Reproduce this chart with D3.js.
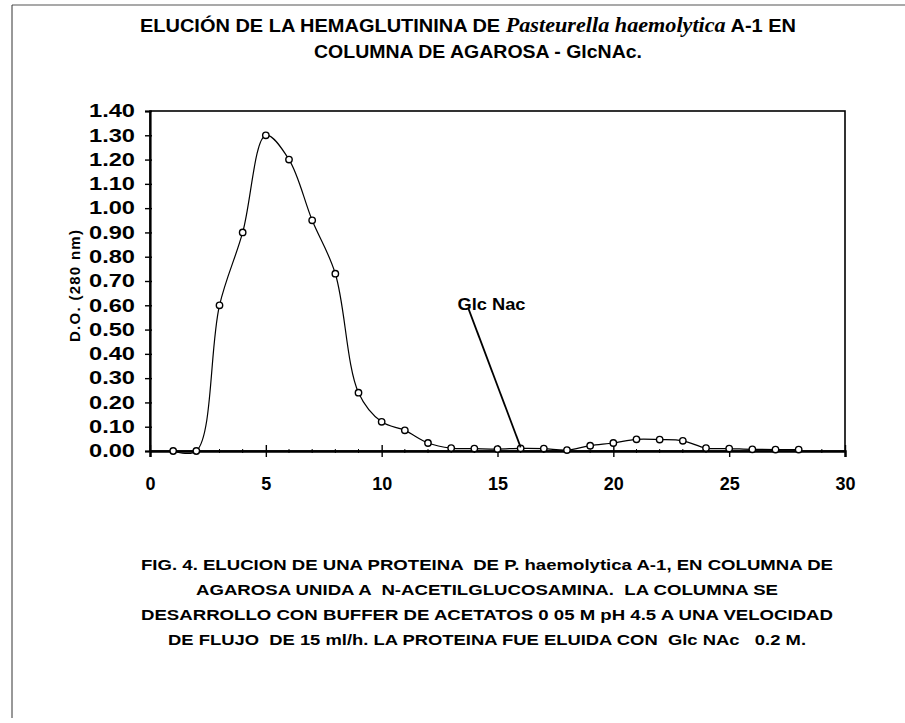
<!DOCTYPE html>
<html lang="es">
<head>
    <meta charset="UTF-8">
    <title>Elución de la hemaglutinina</title>
    <script src="https://d3js.org/d3.v7.min.js"></script>
    <style>
        body { margin: 0; background: #fff; }
        text { font-family: "Liberation Sans", Arial, sans-serif; fill: #000; }
    </style>
</head>
<body>
    <svg width="905" height="723"></svg>

    <script>
        // Fracciones (tubos) y densidad óptica a 280 nm
        const fractions = [1, 2, 3, 4, 5, 6, 7, 8, 9, 10, 11, 12, 13, 14, 15, 16, 17, 18, 19, 20, 21, 22, 23, 24, 25, 26, 27, 28];
        const absorbance = [0.00, 0.00, 0.60, 0.90, 1.30, 1.20, 0.95, 0.73, 0.24, 0.12, 0.085, 0.033, 0.012, 0.010,
                            0.008, 0.011, 0.010, 0.004, 0.022, 0.033, 0.048, 0.047, 0.042, 0.012, 0.010, 0.007, 0.006, 0.006];

        const xTicks = [0, 5, 10, 15, 20, 25, 30];
        const yTicks = [0, 0.1, 0.2, 0.3, 0.4, 0.5, 0.6, 0.7, 0.8, 0.9, 1.0, 1.1, 1.2, 1.3, 1.4];

        // Flecha "Glc Nac": desde la etiqueta hasta el tubo 16
        const arrowFrom = [13.75, 0.585];
        const arrowTo = [16, 0.015];

        const captionLines = [
            "FIG. 4. ELUCION DE UNA PROTEINA  DE P. haemolytica A-1, EN COLUMNA DE",
            "AGAROSA UNIDA A  N-ACETILGLUCOSAMINA.  LA COLUMNA SE",
            "DESARROLLO CON BUFFER DE ACETATOS 0 05 M pH 4.5 A UNA VELOCIDAD",
            "DE FLUJO  DE 15 ml/h. LA PROTEINA FUE ELUIDA CON  Glc NAc   0.2 M."
        ];
        const captionWidths = [692, 582, 692, 638];

        const svg = d3.select("svg");

        // marco exterior (escaneado)
        svg.append("line").attr("x1", 12).attr("x2", 905).attr("y1", 5).attr("y2", 5)
           .attr("stroke", "#555").attr("stroke-width", 1.2);
        svg.append("line").attr("x1", 12).attr("x2", 12).attr("y1", 5).attr("y2", 718)
           .attr("stroke", "#333").attr("stroke-width", 1);

        const margin = { top: 111, left: 150 },
              width = 695,
              height = 340;

        const g = svg.append("g").attr("transform", `translate(${margin.left},${margin.top})`);

        const x = d3.scaleLinear().domain([0, 30]).range([0, width]);
        const y = d3.scaleLinear().domain([0, 1.4]).range([height, 0]);

        // caja del gráfico
        g.append("rect")
         .attr("width", width).attr("height", height)
         .attr("fill", "none").attr("stroke", "#000").attr("stroke-width", 1.6);

        // eje Y
        const yAxis = g.append("g")
            .call(d3.axisLeft(y).tickValues(yTicks).tickFormat(d3.format(".2f")).tickSize(5).tickPadding(10));
        yAxis.select(".domain").attr("stroke-width", 2.2);
        yAxis.selectAll(".tick line").attr("x2", 2).attr("x1", -5).attr("stroke-width", 1.4);
        yAxis.selectAll("text")
             .attr("textLength", 46).attr("lengthAdjust", "spacingAndGlyphs")
             .style("font-size", "18px").style("font-weight", "bold")
             .style("font-family", "'Liberation Sans', Arial, sans-serif");

        // eje X
        const xAxis = g.append("g")
            .attr("transform", `translate(0,${height})`)
            .call(d3.axisBottom(x).tickValues(xTicks).tickSize(6).tickPadding(20));
        xAxis.select(".domain").attr("stroke-width", 2.4);
        xAxis.selectAll(".tick line").attr("y1", -6).attr("y2", 6).attr("stroke-width", 1.4);
        xAxis.selectAll("text")
             .style("font-size", "18px").style("font-weight", "bold")
             .style("font-family", "'Liberation Sans', Arial, sans-serif");

        // marcas menores en el eje X
        g.append("g").selectAll("line")
         .data(d3.range(1, 30).filter(d => d % 5 !== 0))
         .enter().append("line")
         .attr("x1", d => x(d)).attr("x2", d => x(d))
         .attr("y1", height - 2).attr("y2", height + 2)
         .attr("stroke", "#000").attr("stroke-width", 1);

        // título del eje Y
        g.append("text")
         .attr("transform", `translate(-70,${y(0.7) + 5}) rotate(-90)`)
         .attr("text-anchor", "middle")
         .attr("textLength", 112).attr("lengthAdjust", "spacing")
         .style("font-size", "15px").style("font-weight", "bold")
         .text("D.O. (280 nm)");

        // curva suavizada
        const pts = fractions.map((f, i) => [f, absorbance[i]]);
        const line = d3.line()
            .x(d => x(d[0])).y(d => y(d[1]))
            .curve(d3.curveCatmullRom.alpha(0.5));

        g.append("path")
         .datum(pts)
         .attr("d", line)
         .attr("fill", "none").attr("stroke", "#000").attr("stroke-width", 1.2);

        g.selectAll("circle.pt")
         .data(pts)
         .enter().append("circle")
         .attr("class", "pt")
         .attr("cx", d => x(d[0])).attr("cy", d => y(d[1]))
         .attr("r", 3.2)
         .attr("fill", "#fff").attr("stroke", "#000").attr("stroke-width", 1.4);

        // anotación Glc Nac
        g.append("line")
         .attr("x1", x(arrowFrom[0])).attr("y1", y(arrowFrom[1]))
         .attr("x2", x(arrowTo[0])).attr("y2", y(arrowTo[1]))
         .attr("stroke", "#000").attr("stroke-width", 1.8);
        g.append("text")
         .attr("x", x(arrowFrom[0]) - 11).attr("y", y(arrowFrom[1]) + 1)
         .attr("textLength", 68).attr("lengthAdjust", "spacingAndGlyphs")
         .style("font-size", "17px").style("font-weight", "bold")
         .text("Glc Nac");

        // título
        const title = svg.append("text")
            .attr("x", 468).attr("y", 32)
            .attr("text-anchor", "middle")
            .attr("textLength", 656).attr("lengthAdjust", "spacingAndGlyphs")
            .style("font-size", "18px").style("font-weight", "bold");
        title.append("tspan").text("ELUCIÓN DE LA HEMAGLUTININA DE ");
        title.append("tspan")
             .style("font-family", "'Liberation Serif', 'Times New Roman', serif")
             .style("font-style", "italic").style("font-size", "20px")
             .text("Pasteurella haemolytica");
        title.append("tspan").text("  A-1 EN");
        svg.append("text")
           .attr("x", 478).attr("y", 58)
           .attr("text-anchor", "middle")
           .attr("textLength", 328).attr("lengthAdjust", "spacingAndGlyphs")
           .style("font-size", "18px").style("font-weight", "bold")
           .text("COLUMNA DE AGAROSA - GlcNAc.");

        // pie de figura
        svg.append("g").selectAll("text")
           .data(captionLines)
           .enter().append("text")
           .attr("x", 487)
           .attr("y", (d, i) => 570 + i * 25)
           .attr("text-anchor", "middle")
           .attr("textLength", (d, i) => captionWidths[i]).attr("lengthAdjust", "spacingAndGlyphs")
           .style("font-size", "15px")
           .style("font-weight", "bold")
           .attr("xml:space", "preserve")
           .text(d => d);
    </script>
</body>
</html>
